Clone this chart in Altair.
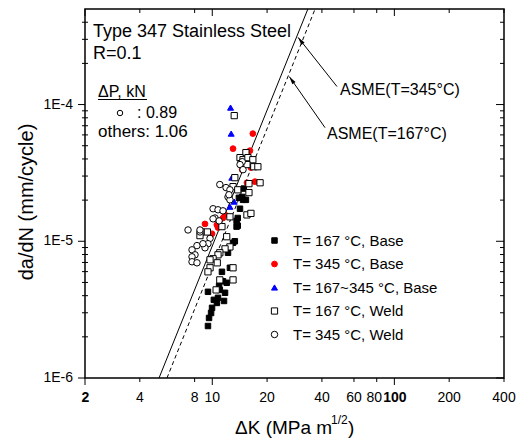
import altair as alt
import pandas as pd

# ---------------- data ----------------
# T = 167 C, Base  (filled black squares)
base167_dk = [14.9, 14.6, 15.3, 14.2, 13.6, 13.8, 13.3, 13.0, 12.2, 12.5, 11.3, 11.45, 12.0, 10.9,
              11.0, 9.47, 11.75, 10.75, 10.2, 11.6, 10.6, 9.97, 9.85, 9.6, 9.47, 14.0, 14.75, 13.8, 13.6]
base167_da = [2.43e-5, 2.11e-5, 2.01e-5, 1.73e-5, 1.41e-5, 1.30e-5, 1.0e-5, 9.75e-6, 8.24e-6, 6.40e-6,
              5.98e-6, 5.1e-6, 4.97e-6, 4.72e-6, 4.41e-6, 4.27e-6, 4.20e-6, 3.86e-6, 3.73e-6, 3.66e-6,
              3.54e-6, 3.26e-6, 2.99e-6, 2.75e-6, 2.40e-6, 2.08e-5, 2.01e-5, 1.48e-5, 1.28e-5]

# T = 345 C, Base  (red circles)
base345_dk = [16.7, 13.0, 16.1, 16.3, 14.6, 15.5, 17.15, 11.75, 11.45, 9.12, 10.6, 10.75, 9.97, 9.72]
base345_da = [6.13e-5, 4.76e-5, 4.60e-5, 3.46e-5, 3.34e-5, 2.68e-5, 2.73e-5, 1.56e-5, 1.48e-5,
              1.34e-5, 1.32e-5, 1.26e-5, 1.135e-5, 1.06e-5]

# T = 167~345 C, Base  (blue triangles)
basemix_dk = [12.6, 12.7, 12.8, 13.2, 12.5]
basemix_da = [9.5e-5, 6.13e-5, 2.92e-5, 1.95e-5, 1.79e-5]

# T = 167 C, Weld  (open squares)
weld167_dk = [13.2, 15.3, 14.2, 14.75, 15.7, 16.7, 14.4, 15.5, 16.9, 17.8, 13.3, 15.9, 18.3, 13.0,
              13.8, 15.9, 12.5, 15.5, 16.3, 11.3, 8.7, 9.4, 12.0, 8.56, 12.5, 11.75, 11.0, 10.75,
              10.1, 9.72, 10.65, 13.0, 9.72, 9.47, 11.0, 13.0, 10.5]
weld167_da = [8.3e-5, 4.45e-5, 4.09e-5, 3.95e-5, 4.09e-5, 3.95e-5, 3.70e-5, 3.64e-5, 3.51e-5, 3.51e-5,
              2.92e-5, 2.64e-5, 2.68e-5, 2.51e-5, 2.38e-5, 2.27e-5, 1.51e-5, 1.56e-5, 1.60e-5, 1.28e-5,
              1.17e-5, 1.17e-5, 1.08e-5, 1.10e-5, 9.1e-6, 8.8e-6, 8.24e-6, 7.96e-6, 7.45e-6, 7.32e-6,
              6.96e-6, 6.40e-6, 6.40e-6, 5.98e-6, 5.22e-6, 5.22e-6, 4.41e-6]

# T = 345 C, Weld  (open circles)
weld345_dk = [11.0, 11.9, 12.5, 12.2, 12.5, 10.1, 10.75, 11.45, 10.35, 10.9, 7.36, 8.56, 9.72, 9.47,
              8.24, 7.74, 8.04, 7.74, 7.74, 8.24, 9.12, 8.89, 14.6, 14.2, 14.75, 12.35, 10.1, 8.56]
weld345_da = [2.60e-5, 2.47e-5, 2.38e-5, 2.11e-5, 2.01e-5, 1.73e-5, 1.70e-5, 1.67e-5, 1.48e-5, 1.41e-5,
              1.21e-5, 1.17e-5, 1.05e-5, 9.6e-6, 9.3e-6, 8.66e-6, 7.96e-6, 7.70e-6, 7.08e-6, 6.96e-6,
              8.96e-6, 9.6e-6, 3.82e-5, 3.64e-5, 3.34e-5, 2.19e-5, 1.46e-5, 1.21e-5]

series_names = ["T= 167 °C, Base", "T= 345 °C, Base", "T= 167~345 °C, Base",
                "T= 167 °C, Weld", "T= 345 °C, Weld"]

# ASME reference curves (end points at the plot edges)
asme345_dk = [5.10, 33.5]
asme345_da = [1e-6, 5e-4]
asme167_dk = [5.64, 36.7]
asme167_da = [1e-6, 5e-4]

# annotation arrows (tip on the curve, tail at the label)
arrow_tip_dk = [29.6, 26.5]
arrow_tip_da = [3.10e-4, 1.60e-4]
arrow_tail_dk = [48.4, 41.6]
arrow_tail_da = [1.355e-4, 6.78e-5]
arrow_angle = [322, 325]

# axis ticks and labels
x_plain_labels = [4, 8, 10, 20, 40, 60, 200, 400]
x_tight_labels = [80]
x_bold_labels = [2, 100]
x_major_ticks = [2, 10, 100]
x_minor_ticks = [4, 8, 20, 40, 60, 80, 200, 400]
y_major_ticks = [1e-6, 1e-5, 1e-4]
y_tick_labels = ["1E-6", "1E-5", "1E-4"]
y_minor_ticks = [2e-6, 3e-6, 4e-6, 5e-6, 6e-6, 7e-6, 8e-6, 9e-6,
                 2e-5, 3e-5, 4e-5, 5e-5, 6e-5, 7e-5, 8e-5, 9e-5,
                 2e-4, 3e-4, 4e-4]

# ---------------- styles ----------------
series_shapes = ["square", "circle", "triangle-up", "square", "circle"]
series_stroke = ["#000000", "#ff0000", "#0000ff", "#000000", "#000000"]
series_fill = ["#000000", "#ff0000", "#0000ff", "#ffffff", "#ffffff"]
series_sizes = [30, 42, 50, 30, 40]
ARROW_PATH = "M0,0L0.5,2L-0.5,2Z"

FONT = "Liberation Sans"
W, H = 419, 369

frames = []
for name, dk, da in zip(series_names,
                        [base167_dk, base345_dk, basemix_dk, weld167_dk, weld345_dk],
                        [base167_da, base345_da, basemix_da, weld167_da, weld345_da]):
    frames.append(pd.DataFrame({"dK": dk, "dadN": da, "series": name}))
df = pd.concat(frames, ignore_index=True)

xscale = alt.Scale(type="log", domain=[2, 400])
yscale = alt.Scale(type="log", domain=[1e-6, 5e-4])

leg = alt.Legend(title=None, orient="none", legendX=182, legendY=224, direction="vertical",
                 labelFont=FONT, labelFontSize=15, labelColor="black", labelOffset=11,
                 rowPadding=7.5, padding=0, symbolStrokeWidth=1)

points = alt.Chart(df).mark_point(filled=True, opacity=1, strokeWidth=1).encode(
    x=alt.X("dK:Q", scale=xscale, axis=None),
    y=alt.Y("dadN:Q", scale=yscale, axis=None),
    shape=alt.Shape("series:N", scale=alt.Scale(domain=series_names, range=series_shapes), legend=leg),
    stroke=alt.Stroke("series:N", scale=alt.Scale(domain=series_names, range=series_stroke), legend=leg),
    fill=alt.Fill("series:N", scale=alt.Scale(domain=series_names, range=series_fill), legend=leg),
    size=alt.Size("series:N", scale=alt.Scale(domain=series_names, range=series_sizes), legend=leg),
)


def asme_line(dk, da, dash):
    d = pd.DataFrame({"dK": dk, "dadN": da})
    kw = {"strokeDash": dash} if dash else {}
    return alt.Chart(d).mark_line(color="black", strokeWidth=1, clip=True, **kw).encode(
        x=alt.X("dK:Q", scale=xscale, axis=None),
        y=alt.Y("dadN:Q", scale=yscale, axis=None))


line345 = asme_line(asme345_dk, asme345_da, None)
line167 = asme_line(asme167_dk, asme167_da, [4, 3])

arr_df = pd.DataFrame({"x0": arrow_tip_dk, "y0": arrow_tip_da,
                       "x1": arrow_tail_dk, "y1": arrow_tail_da, "ang": arrow_angle})
arrows = alt.Chart(arr_df).mark_rule(color="black", strokeWidth=1).encode(
    x=alt.X("x0:Q", scale=xscale, axis=None), y=alt.Y("y0:Q", scale=yscale, axis=None),
    x2="x1:Q", y2="y1:Q")
heads = alt.Chart(arr_df).mark_point(shape=ARROW_PATH, size=64, filled=True, color="black",
                                     opacity=1).encode(
    x=alt.X("x0:Q", scale=xscale, axis=None), y=alt.Y("y0:Q", scale=yscale, axis=None),
    angle=alt.Angle("ang:Q", scale=None))


def xticks(vals, y0, y1):
    return alt.Chart(pd.DataFrame({"v": vals})).mark_rule(color="black", strokeWidth=1).encode(
        x=alt.X("v:Q", scale=xscale, axis=None), y=alt.value(y0), y2=alt.value(y1))


def yticks(vals, x0, x1):
    return alt.Chart(pd.DataFrame({"v": vals})).mark_rule(color="black", strokeWidth=1).encode(
        y=alt.Y("v:Q", scale=yscale, axis=None), x=alt.value(x0), x2=alt.value(x1))


ticks = [
    xticks(x_major_ticks, H, H + 7), xticks(x_minor_ticks, H, H + 4),
    xticks(x_major_ticks, 0, 7), xticks(x_minor_ticks, 0, 4),
    yticks(y_major_ticks, -7, 0), yticks(y_minor_ticks, -3, 3),
    yticks(y_major_ticks, W, W - 8), yticks(y_minor_ticks, W, W - 4),
]


def xlabels(vals, weight, dx=0):
    return alt.Chart(pd.DataFrame({"v": vals})).mark_text(
        font=FONT, fontSize=14, fontWeight=weight, align="center", baseline="alphabetic",
        color="black", dx=dx).encode(
        x=alt.X("v:Q", scale=xscale, axis=None), y=alt.value(H + 24),
        text=alt.Text("v:Q", format="d"))


ylabels = alt.Chart(pd.DataFrame({"v": y_major_ticks, "t": y_tick_labels})).mark_text(
    font=FONT, fontSize=14, align="right", baseline="middle", color="black").encode(
    y=alt.Y("v:Q", scale=yscale, axis=None), x=alt.value(-12), text="t:N")


def text(t, x, y, size, align="left", angle=0, baseline="alphabetic"):
    return alt.Chart(pd.DataFrame({"t": [t]})).mark_text(
        font=FONT, fontSize=size, align=align, baseline=baseline, angle=angle,
        color="black").encode(text="t:N", x=alt.value(x), y=alt.value(y))


texts = [
    text("Type 347 Stainless Steel", 8, 28, 18),
    text("R=0.1", 8, 50, 18),
    text("ΔP, kN", 13, 88, 16),
    text(": 0.89", 52, 109, 16),
    text("others: 1.06", 13, 128, 17),
    text("ASME(T=345°C)", 255, 86, 16),
    text("ASME(T=167°C)", 242, 130, 16),
    text("ΔK (MPa m", 150, 425, 19),
    text("1/2", 246, 415, 12),
    text(")", 263, 425, 19),
    text("da/dN (mm/cycle)", -58, 193, 20, align="center", angle=270, baseline="middle"),
]

underline = alt.Chart(pd.DataFrame({"a": [0]})).mark_rule(color="black", strokeWidth=1).encode(
    x=alt.value(13), x2=alt.value(62), y=alt.value(90.5))
small_circle = alt.Chart(pd.DataFrame({"a": [0]})).mark_point(
    shape="circle", size=30, stroke="black", fill="white", filled=False, opacity=1,
    strokeWidth=1).encode(x=alt.value(35), y=alt.value(104))

chart = alt.layer(line345, line167, points, arrows, heads, *ticks,
                  xlabels(x_plain_labels, "normal"), xlabels(x_tight_labels, "normal", dx=-2.5),
                  xlabels(x_bold_labels, "bold", dx=0.5), ylabels,
                  *texts, underline, small_circle).properties(
    width=W, height=H,
    padding={"left": 85, "top": 9, "right": 20, "bottom": 65},
    autosize=alt.AutoSizeParams(type="none"),
    background="white",
).configure_view(stroke="black", strokeWidth=1.5)

chart.save("out.html", embed_options={"renderer": "svg", "actions": False})
